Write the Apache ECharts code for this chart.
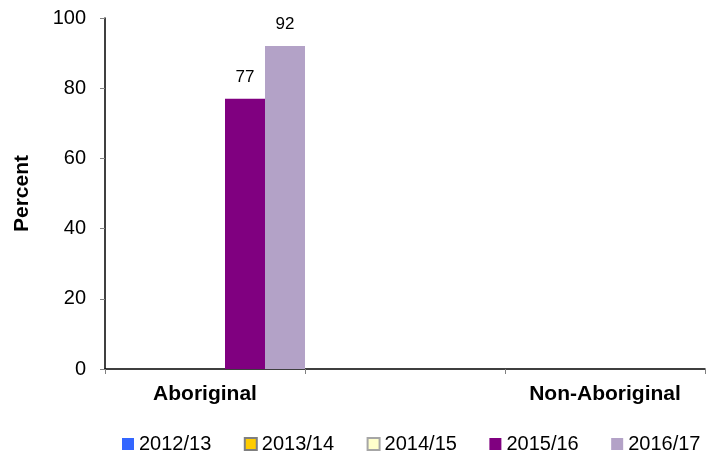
<!DOCTYPE html>
<html>
<head>
<meta charset="utf-8">
<script src="https://cdn.jsdelivr.net/npm/echarts@6/dist/echarts.min.js"></script>
<style>
  html, body { margin: 0; padding: 0; background: #fff; }
  #chart { width: 706px; height: 468px; }
</style>
</head>
<body>
<div id="chart"></div>
<script>
// Category slots along the x axis (the middle slot is intentionally blank)
const categories = ['Aboriginal', '', 'Non-Aboriginal'];

// Reporting years and their colours
const years = ['2012/13', '2013/14', '2014/15', '2015/16', '2016/17'];
const yearColors = ['#3366FF', '#FFCC00', '#FFFFCC', '#800080', '#B3A2C7'];
const yearBorders = [null, '#7F7F7F', '#A6A6A6', null, null];

// Percent values per year, one entry per category slot
const v2012 = [null, null, null];
const v2013 = [null, null, null];
const v2014 = [null, null, null];
const v2015 = [77, null, null];
const v2016 = [92, null, null];
const seriesValues = [v2012, v2013, v2014, v2015, v2016];

// Y axis range
const yMin = 0, yMax = 100, yStep = 20;

const font = 'Liberation Sans, Arial, sans-serif';

const chart = echarts.init(document.getElementById('chart'), null, { renderer: 'canvas' });

const series = years.map((name, i) => ({
  name: name,
  type: 'bar',
  data: seriesValues[i],
  barGap: '0%',
  barCategoryGap: '0%',
  itemStyle: {
    color: yearColors[i],
    borderColor: yearBorders[i] || yearColors[i],
    borderWidth: yearBorders[i] ? 2 : 0
  },
  label: {
    show: true,
    position: 'top',
    distance: 13,
    color: '#000',
    fontFamily: font,
    fontSize: 17,
    formatter: p => (p.value == null ? '' : p.value)
  }
}));

chart.setOption({
  animation: false,
  backgroundColor: '#fff',
  grid: { left: 105, right: 1, top: 18, bottom: 99, containLabel: false },
  legend: {
    data: years,
    left: 117,
    top: 429,
    width: 640,
    itemWidth: 12,
    itemHeight: 12,
    itemGap: 32.5,
    icon: 'rect',
    textStyle: { fontFamily: font, fontSize: 20, color: '#000' }
  },
  xAxis: {
    type: 'category',
    data: categories,
    axisLine: { lineStyle: { color: '#000', width: 1.5 } },
    axisTick: { show: true, length: 5, lineStyle: { color: '#808080' } },
    axisLabel: {
      fontFamily: font, fontSize: 21, fontWeight: 'bold', color: '#000', margin: 15
    },
    splitLine: { show: false }
  },
  yAxis: {
    type: 'value',
    min: yMin, max: yMax, interval: yStep,
    name: 'Percent',
    nameLocation: 'middle',
    nameGap: 72,
    nameRotate: 90,
    nameTextStyle: { fontFamily: font, fontSize: 21, fontWeight: 'bold', color: '#000' },
    axisLine: { show: true, lineStyle: { color: '#000', width: 1.5 } },
    axisTick: { show: true, length: 5, lineStyle: { color: '#808080' } },
    axisLabel: { fontFamily: font, fontSize: 20, color: '#000', margin: 19 },
    splitLine: { show: false }
  },
  series: series
});
</script>
</body>
</html>
